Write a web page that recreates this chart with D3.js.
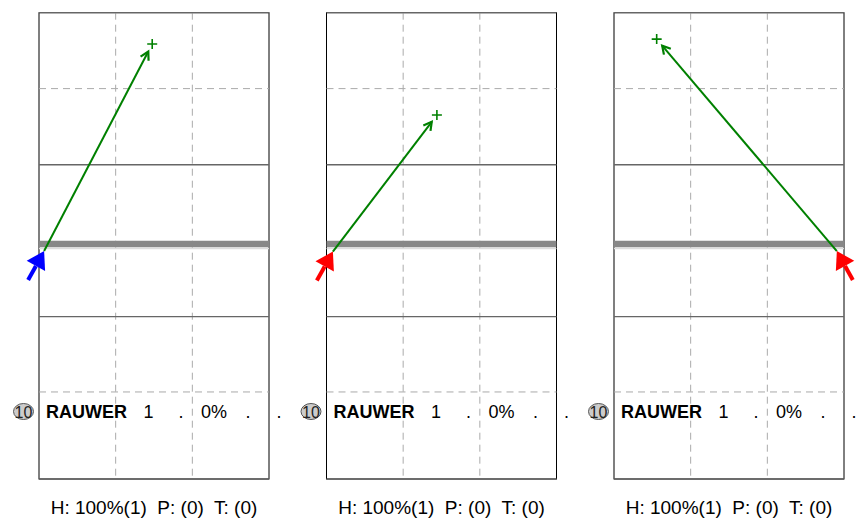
<!DOCTYPE html>
<html>
<head>
<meta charset="utf-8">
<script src="https://cdn.jsdelivr.net/npm/d3@7"></script>
<style>
body { margin: 0; background: #fff; }
svg { display: block; }
text { font-family: "Liberation Sans", Arial, sans-serif; }
</style>
</head>
<body>
<script>
// serves, one per panel (court metres: x 0..9, y 0..18, net at ~9)
var serveColor = ["blue", "red", "red"];
var startX = [0.2, 0.25, 8.72];
var startY = [9.2, 9.22, 9.2];
var landX = [4.43, 4.32, 1.67];
var landY = [1.21, 3.95, 1.02];

var playerNo = ["10", "10", "10"];
var playerName = ["RAUWER", "RAUWER", "RAUWER"];
var rowCells = ["1", ".", "0%", ".", "."];
var footer = ["H: 100%(1)  P: (0)  T: (0)", "H: 100%(1)  P: (0)  T: (0)", "H: 100%(1)  P: (0)  T: (0)"];

// court lines
var dashedY = [2.93, 14.64];
var solidY = [0, 5.87, 11.73, 18];
var netY = 8.93;
var dashedX = [3, 6];

var w = 862;
var h = 519;
var panelLeft = [39, 326.5, 614];
var courtW = 230;
var cellOffset = [109.5, 142, 175, 209, 240];

var svg = d3.select("body")
	.append("svg")
	.attr("width", w)
	.attr("height", h);

var y = d3.scaleLinear().domain([0, 18]).range([12.7, 479]);

panelLeft.forEach(function(left, i) {
	var x = d3.scaleLinear().domain([0, 9]).range([left, left + courtW]);
	var g = svg.append("g");

	g.append("rect")
		.attr("x", x(0)).attr("y", y(0))
		.attr("width", courtW).attr("height", y(18) - y(0))
		.attr("fill", "white")
		.attr("stroke", "black");

	g.selectAll("line.dx")
		.data(dashedX)
		.enter()
		.append("line")
		.attr("x1", function(d) { return x(d); })
		.attr("x2", function(d) { return x(d); })
		.attr("y1", y(0)).attr("y2", y(18))
		.attr("stroke", "#aaa")
		.attr("stroke-dasharray", "7,5");

	g.selectAll("line.dy")
		.data(dashedY)
		.enter()
		.append("line")
		.attr("x1", x(0)).attr("x2", x(9))
		.attr("y1", function(d) { return y(d); })
		.attr("y2", function(d) { return y(d); })
		.attr("stroke", "#aaa")
		.attr("stroke-dasharray", "7,5");

	g.selectAll("line.sy")
		.data(solidY)
		.enter()
		.append("line")
		.attr("x1", x(0)).attr("x2", x(9))
		.attr("y1", function(d) { return y(d); })
		.attr("y2", function(d) { return y(d); })
		.attr("stroke", "#666")
		.attr("stroke-width", 1.3);

	// net
	g.append("line")
		.attr("x1", x(0)).attr("x2", x(9))
		.attr("y1", y(netY) + 4.5).attr("y2", y(netY) + 4.5)
		.attr("stroke", "#ddd")
		.attr("stroke-width", 1.5);
	g.append("line")
		.attr("x1", x(0)).attr("x2", x(9))
		.attr("y1", y(netY)).attr("y2", y(netY))
		.attr("stroke", "#888")
		.attr("stroke-width", 6.5);

	// serve trajectory
	var sx = x(startX[i]), sy = y(startY[i]);
	var lx = x(landX[i]), ly = y(landY[i]);
	var dx = lx - sx, dy = ly - sy, len = Math.sqrt(dx * dx + dy * dy);
	var ux = dx / len, uy = dy / len;
	var ex = lx - ux * 8.5, ey = ly - uy * 8.5;
	g.append("line")
		.attr("x1", sx).attr("y1", sy)
		.attr("x2", ex).attr("y2", ey)
		.attr("stroke", "green")
		.attr("stroke-width", 2);
	var px = -uy, py = ux;
	g.append("path")
		.attr("d", "M" + (ex - ux * 8 + px * 4.5) + "," + (ey - uy * 8 + py * 4.5) +
			"L" + ex + "," + ey +
			"L" + (ex - ux * 8 - px * 4.5) + "," + (ey - uy * 8 - py * 4.5))
		.attr("fill", "none")
		.attr("stroke", "green")
		.attr("stroke-width", 2.2);
	g.append("path")
		.attr("d", "M" + (lx - 5) + "," + ly + "H" + (lx + 5) + "M" + lx + "," + (ly - 5) + "V" + (ly + 5))
		.attr("stroke", "green")
		.attr("stroke-width", 1.6);

	// server arrow
	var side = startX[i] < 4.5 ? -1 : 1;
	var tx = sx + side * 16, ty = sy + 29;
	var ax = sx - tx, ay = sy - ty, al = Math.sqrt(ax * ax + ay * ay);
	ax /= al; ay /= al;
	var bx = sx - ax * 17, by = sy - ay * 17;
	g.append("line")
		.attr("x1", tx).attr("y1", ty)
		.attr("x2", bx).attr("y2", by)
		.attr("stroke", serveColor[i])
		.attr("stroke-width", 4);
	g.append("path")
		.attr("d", "M" + sx + "," + sy +
			"L" + (bx - ay * 10.5) + "," + (by + ax * 10.5) +
			"L" + (bx + ay * 10.5) + "," + (by - ax * 10.5) + "Z")
		.attr("fill", serveColor[i]);

	// player row
	var ry = 417.5;
	g.append("ellipse")
		.attr("cx", x(0) - 15.5).attr("cy", ry - 6)
		.attr("rx", 10).attr("ry", 8)
		.attr("fill", "#ccc")
		.attr("stroke", "#555");
	g.append("text")
		.attr("x", x(0) - 15.5).attr("y", ry)
		.attr("text-anchor", "middle")
		.attr("font-size", "16px")
		.attr("fill", "#222")
		.text(playerNo[i]);
	g.append("text")
		.attr("x", x(0) + 7).attr("y", ry)
		.attr("font-size", "18px")
		.attr("font-weight", "bold")
		.text(playerName[i]);
	g.selectAll("text.cell")
		.data(rowCells)
		.enter()
		.append("text")
		.attr("x", function(d, j) { return x(0) + cellOffset[j]; })
		.attr("y", ry)
		.attr("text-anchor", "middle")
		.attr("font-size", "18px")
		.text(function(d) { return d; });

	g.append("text")
		.attr("x", x(4.5)).attr("y", 513.5)
		.attr("text-anchor", "middle")
		.attr("font-size", "19px")
		.style("white-space", "pre")
		.text(footer[i]);
});
</script>
</body>
</html>
